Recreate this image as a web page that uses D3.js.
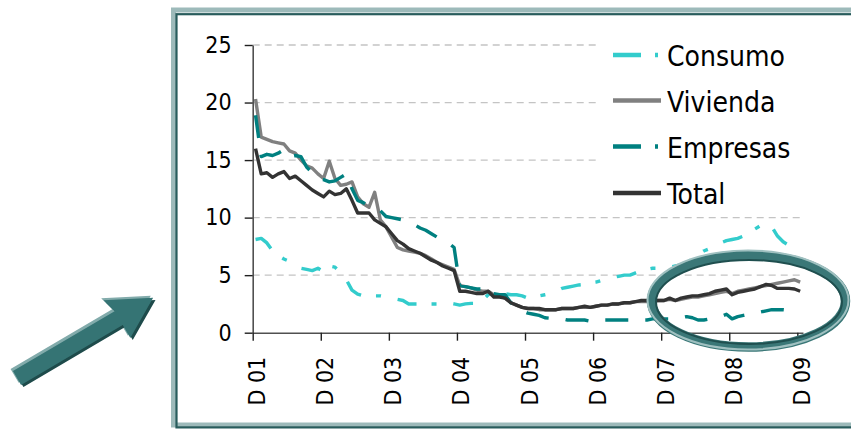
<!DOCTYPE html>
<html>
<head>
<meta charset="utf-8">
<script src="https://cdn.jsdelivr.net/npm/d3@7"></script>
<style>
  body { margin: 0; background: #fff; }
  svg text { font-family: "DejaVu Sans Condensed", "DejaVu Sans", sans-serif; font-stretch: condensed; fill: #000; }
</style>
</head>
<body>
<div id="chart"></div>
<script>
// monthly data, Dec 2001 .. Dec 2009
const tickLabels = ['D 01', 'D 02', 'D 03', 'D 04', 'D 05', 'D 06', 'D 07', 'D 08', 'D 09'];
const yTicks = [0, 5, 10, 15, 20, 25];
const seriesNames = ['Consumo', 'Vivienda', 'Empresas', 'Total'];

const consumo = [
  8.1, 8.2, 7.8, 7.1, 6.7, 6.4, 6.2, 5.8, 5.6, 5.5, 5.4, 5.6,
  5.3, 5.8, 5.7, 5.2, 4.6, 3.7, 3.35, 3.2, 3.2, 3.2, 3.2, 3.1,
  3.0, 2.9, 2.8, 2.5, 2.5, 2.5, 2.5, 2.5, 2.5, 2.5, 2.6, 2.5,
  2.4, 2.5, 2.55, 2.55, 2.8, 3.3, 3.5, 3.4, 3.4, 3.3, 3.3, 3.2,
  3.0, 3.1, 3.2, 3.3, 3.4, 3.6, 3.85, 3.95, 4.05, 4.15, 4.2, 4.35,
  4.4, 4.55, 4.7, 4.8, 4.9, 5.0, 5.0, 5.2, 5.4, 5.5, 5.6, 5.6,
  5.65, 5.7, 5.8, 5.9, 6.1, 6.4, 6.8, 7.1, 7.3, 7.6, 7.8, 8.0,
  8.1, 8.2, 8.4, 8.7, 9.0, 9.3, 9.5, 9.2, 8.4, 7.9, 7.6, 7.5,
  7.4
];
const vivienda = [
  20.3, 17.0, 16.8, 16.6, 16.5, 16.4, 15.8, 15.6, 15.0, 14.5, 14.3, 13.8,
  13.4, 14.9, 13.4, 12.8, 12.9, 13.1, 11.8, 11.2, 10.9, 12.2, 9.8, 9.2,
  8.3, 7.4, 7.2, 7.1, 7.0, 6.9, 6.7, 6.4, 6.1, 5.9, 5.7, 5.5,
  4.1, 4.0, 3.9, 3.7, 3.6, 3.6, 3.3, 3.2, 3.0, 2.6, 2.4, 2.2,
  2.1, 2.1, 2.0, 2.0, 2.0, 2.0, 2.1, 2.1, 2.1, 2.2, 2.2, 2.2,
  2.3, 2.4, 2.4, 2.5, 2.5, 2.6, 2.6, 2.7, 2.7, 2.7, 2.7, 2.8,
  2.8, 2.9, 2.8, 2.9, 3.0, 3.1, 3.1, 3.2, 3.3, 3.4, 3.5, 3.6,
  3.4, 3.6, 3.7, 3.8, 3.9, 4.0, 4.1, 4.2, 4.3, 4.4, 4.5, 4.6,
  4.4
];
const empresas = [
  18.9, 15.3, 15.5, 15.4, 15.6, 15.9, 15.3, 15.4, 15.3, 14.4, 13.9, 13.4,
  13.3, 13.1, 13.2, 13.5, 13.8, 12.5, 11.5, 11.3, 11.0, 10.8, 10.6, 10.1,
  10.0, 9.9, 9.8, 9.6, 9.4, 9.1, 8.9, 8.6, 8.3, 8.1, 7.8, 7.4,
  4.1, 4.0, 3.9, 3.8, 3.8, 4.0, 3.4, 3.3, 3.3, 2.6, 2.3, 1.9,
  1.7, 1.6, 1.5, 1.3, 1.25, 1.2, 1.2, 1.1, 1.1, 1.1, 1.1, 1.0,
  1.0, 1.1, 1.1, 1.1, 1.1, 1.1, 1.1, 1.1, 1.1, 1.1, 1.2, 1.2,
  1.2, 1.2, 1.2, 1.3, 1.4, 1.3, 1.1, 1.1, 1.2, 1.3, 1.4, 1.6,
  1.2, 1.4, 1.5, 1.6, 1.7, 1.8, 1.9, 2.0, 2.0, 2.0, 1.95, 1.9,
  1.9
];
const total = [
  16.0, 13.8, 13.9, 13.5, 13.8, 14.0, 13.4, 13.6, 13.2, 12.8, 12.4, 12.1,
  11.8, 12.3, 12.0, 12.1, 12.5, 11.5, 10.4, 10.4, 10.4, 9.8, 9.5, 9.2,
  8.6, 8.0, 7.7, 7.3, 7.1, 6.9, 6.6, 6.3, 6.1, 5.8, 5.6, 5.4,
  3.6, 3.6, 3.5, 3.4, 3.4, 3.6, 3.1, 3.1, 3.0, 2.6, 2.4, 2.2,
  2.1, 2.1, 2.1, 2.0, 2.0, 2.0, 2.1, 2.1, 2.1, 2.2, 2.3, 2.2,
  2.3, 2.4, 2.4, 2.5, 2.5, 2.6, 2.6, 2.7, 2.8, 2.8, 2.8, 2.8,
  2.8, 3.0, 2.8, 3.0, 3.1, 3.2, 3.2, 3.3, 3.4, 3.6, 3.7, 3.8,
  3.3, 3.5, 3.6, 3.7, 3.8, 4.0, 4.2, 4.1, 3.85, 3.85, 3.85, 3.8,
  3.6
];

const width = 851;
const height = 429;

const svg = d3.select('#chart')
  .append('svg')
  .attr('width', width)
  .attr('height', height);

// outer frame
svg.append('rect')
  .attr('x', 173.5).attr('y', 10)
  .attr('width', 700).attr('height', 415)
  .attr('fill', 'none')
  .attr('stroke', '#9dbaba')
  .attr('stroke-width', 5);
svg.append('rect')
  .attr('x', 176.5).attr('y', 14.2)
  .attr('width', 700).attr('height', 413.2)
  .attr('fill', 'none')
  .attr('stroke', '#285c5c')
  .attr('stroke-width', 2.2);

const x = d3.scaleLinear().domain([0, 97]).range([252.7, 803]);
const y = d3.scaleLinear().domain([0, 25]).range([332.7, 45]);

// gridlines
svg.append('g')
  .selectAll('line')
  .data(yTicks.slice(1))
  .join('line')
  .attr('x1', x(0)).attr('x2', x(97))
  .attr('y1', d => y(d)).attr('y2', d => y(d))
  .attr('stroke', '#c4c4c4')
  .attr('stroke-width', 1.3)
  .attr('stroke-dasharray', '7,5');

// legend background hides gridlines
svg.append('rect')
  .attr('x', 600).attr('y', 28)
  .attr('width', 205).attr('height', 182)
  .attr('fill', '#fff');

const styles = {
  Consumo: { color: '#33cccc', dash: '20,15,5,17', legendDash: '28,14,3,20' },
  Vivienda: { color: '#808080', dash: null, legendDash: null },
  Empresas: { color: '#008080', dash: '23,17', legendDash: '28,14,3,20' },
  Total: { color: '#333333', dash: null, legendDash: null }
};
const seriesData = [consumo, vivienda, empresas, total];

const line = d3.line()
  .x((d, i) => x(i + 0.5))
  .y(d => y(d));

svg.append('g')
  .selectAll('path')
  .data(seriesData)
  .join('path')
  .attr('d', line)
  .attr('fill', 'none')
  .attr('stroke', (d, i) => styles[seriesNames[i]].color)
  .attr('stroke-width', 3.4)
  .attr('stroke-linejoin', 'round')
  .attr('stroke-dasharray', (d, i) => styles[seriesNames[i]].dash);

// axes
function yAxis(g) {
  g.attr('transform', `translate(${x(0)},0)`)
    .call(d3.axisLeft(y).tickValues(yTicks).tickSize(8).tickPadding(13).tickSizeOuter(0))
    .attr('font-size', '23px');
  g.selectAll('.tick text').attr('font-family', null);
  g.select('.domain').attr('stroke', '#505050').attr('stroke-width', 1.6);
  g.selectAll('.tick line').attr('stroke', '#202020').attr('stroke-width', 1.4);
}

function xAxis(g) {
  g.attr('transform', `translate(0,${y(0)})`)
    .call(d3.axisBottom(x)
      .tickValues(d3.range(tickLabels.length).map(i => i * 12))
      .tickFormat((d, i) => tickLabels[i])
      .tickSize(8)
      .tickSizeOuter(0))
    .attr('font-size', '23px');
  g.selectAll('.tick text')
    .attr('transform', 'rotate(-90)')
    .attr('text-anchor', 'end')
    .attr('x', -24)
    .attr('y', 4)
    .attr('dy', '0.35em');
  g.select('.domain').attr('stroke', '#505050').attr('stroke-width', 1.6);
  g.selectAll('.tick line').attr('stroke', '#202020').attr('stroke-width', 1.4);
}

svg.append('g').call(yAxis);
svg.append('g').call(xAxis);
svg.selectAll('.tick text').attr('fill', '#000');
svg.selectAll('g[font-family]').attr('font-family', null);

// legend
const legendRows = [55, 100.5, 146.5, 193];
const legend = svg.append('g')
  .selectAll('g')
  .data(seriesNames)
  .join('g')
  .attr('transform', (d, i) => `translate(0,${legendRows[i]})`);
legend.append('line')
  .attr('x1', 613).attr('x2', 661)
  .attr('stroke', d => styles[d].color)
  .attr('stroke-width', 4.5)
  .attr('stroke-dasharray', d => styles[d].legendDash);
legend.append('text')
  .attr('x', 667)
  .attr('y', 11)
  .attr('font-size', '28px')
  .text(d => d);

// highlight ellipse
const ring = svg.append('g');
ring.append('ellipse')
  .attr('cx', 748.5).attr('cy', 301)
  .attr('rx', 97).attr('ry', 46)
  .attr('fill', 'none')
  .attr('stroke', '#3a7777')
  .attr('stroke-width', 9.5);
ring.append('ellipse')
  .attr('cx', 748).attr('cy', 300)
  .attr('rx', 100.5).attr('ry', 49.5)
  .attr('fill', 'none')
  .attr('stroke', '#9fc0c0')
  .attr('stroke-width', 2);
ring.append('ellipse')
  .attr('cx', 749).attr('cy', 302)
  .attr('rx', 93).attr('ry', 42)
  .attr('fill', 'none')
  .attr('stroke', '#1f4f4f')
  .attr('stroke-width', 2);

// arrow
const arrowShape = 'M0,-8 L118,-8 L114,-23 L158,0 L118,23 L118,8 L0,8 Z';
const arrow = svg.append('g')
  .attr('transform', 'translate(17,378) rotate(-30.5)');
arrow.append('path').attr('d', arrowShape).attr('fill', '#82abab')
  .attr('transform', 'translate(-1,-3)');
arrow.append('path').attr('d', arrowShape).attr('fill', '#1e4b4b')
  .attr('transform', 'translate(1,3)');
arrow.append('path').attr('d', arrowShape).attr('fill', '#357474');

svg.node();
</script>
</body>
</html>
